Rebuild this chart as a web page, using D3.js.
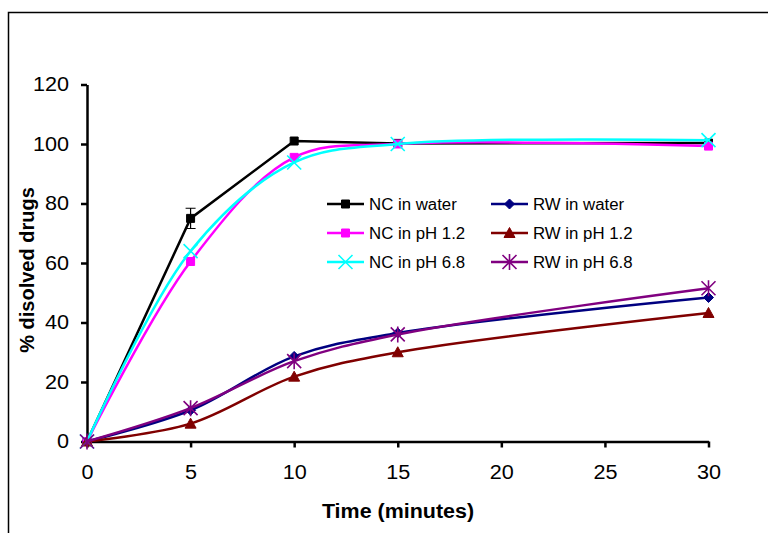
<!DOCTYPE html>
<html>
<head>
<meta charset="utf-8">
<script src="https://cdn.jsdelivr.net/npm/d3@7"></script>
<style>
  body { margin: 0; background: #fff; }
  svg { display: block; font-family: Arial, "Liberation Sans", sans-serif; }
</style>
</head>
<body>
<div id="chart"></div>
<script>
// sampling times (minutes)
const times = [0, 5, 10, 15, 30];

const ncWater = [0, 75, 101, 100.2, 100.3];
const ncPh12 = [0, 60.5, 95.5, 100, 99.3];
const ncPh68 = [0, 64, 93.8, 100, 101.3];
const rwWater = [0, 10.5, 28.6, 36.5, 48.4];
const rwPh12 = [0, 6, 21.8, 30, 43.2];
const rwPh68 = [0, 11.2, 27, 36, 51.5];

// error bar on NC in water at 5 min
const ncWaterErr = [0, 3.4, 0, 0, 0];

const xTicks = [0, 5, 10, 15, 20, 25, 30];
const yTicks = [0, 20, 40, 60, 80, 100, 120];

const seriesNames = ['NC in water', 'RW in water', 'NC in pH 1.2', 'RW in pH 1.2', 'NC in pH 6.8', 'RW in pH 6.8'];

const width = 768;
const height = 533;

const series = [
  { name: seriesNames[0], values: ncWater, color: '#000000', marker: 'square', smooth: false, err: ncWaterErr },
  { name: seriesNames[1], values: rwWater, color: '#000080', marker: 'diamond', smooth: true },
  { name: seriesNames[2], values: ncPh12, color: '#ff00ff', marker: 'square', smooth: true },
  { name: seriesNames[3], values: rwPh12, color: '#800000', marker: 'triangle', smooth: true },
  { name: seriesNames[4], values: ncPh68, color: '#00ffff', marker: 'cross', smooth: true },
  { name: seriesNames[5], values: rwPh68, color: '#800080', marker: 'asterisk', smooth: true },
];

// the original text looks a bit wider than plain Arial
const stretch = (sel, k) => {
  sel.each(function widen() {
    const len = this.getComputedTextLength();
    d3.select(this)
      .attr('textLength', len * k)
      .attr('lengthAdjust', 'spacingAndGlyphs');
  });
};

const svg = d3.select('#chart').append('svg')
  .attr('width', width)
  .attr('height', height);

// outer frame (right and bottom edges fall outside the picture)
svg.append('rect')
  .attr('x', 8.5).attr('y', 12.5)
  .attr('width', 800).attr('height', 600)
  .attr('fill', 'none')
  .attr('stroke', '#000')
  .attr('stroke-width', 1.5);

const x = d3.scaleLinear().domain([0, 30]).range([87, 708.5]);
const y = d3.scaleLinear().domain([0, 120]).range([441.5, 84.5]);

const xAxis = svg.append('g')
  .attr('transform', `translate(0,${y(0)})`)
  .call(d3.axisBottom(x).tickValues(xTicks).tickSize(6).tickPadding(17).tickSizeOuter(0));

const yAxis = svg.append('g')
  .attr('transform', `translate(${x(0)},0)`)
  .call(d3.axisLeft(y).tickValues(yTicks).tickSize(6).tickPadding(12).tickSizeOuter(0));

[xAxis, yAxis].forEach((a) => {
  a.select('.domain').attr('stroke', '#000').attr('stroke-width', 2.5);
  a.selectAll('.tick line').attr('stroke', '#000').attr('stroke-width', 2.5);
  a.selectAll('.tick text').attr('font-size', 20).attr('fill', '#000')
    .attr('font-family', 'Arial, "Liberation Sans", sans-serif');
  stretch(a.selectAll('.tick text'), 1.08);
});

svg.append('text')
  .attr('x', 398).attr('y', 518)
  .attr('text-anchor', 'middle')
  .attr('font-size', 19.5).attr('font-weight', 'bold')
  .text('Time (minutes)')
  .call(stretch, 1.1);

svg.append('text')
  .attr('transform', 'translate(34,270) rotate(-90)')
  .attr('text-anchor', 'middle')
  .attr('font-size', 20).attr('font-weight', 'bold')
  .text('% disolved drugs');

const markerPath = (type) => {
  switch (type) {
    case 'square': return 'M-4,-4H4V4H-4Z';
    case 'diamond': return 'M0,-5L5,0L0,5L-5,0Z';
    case 'triangle': return 'M0,-5.5L5.5,4.5H-5.5Z';
    case 'cross': return 'M-7,-7L7,7M-7,7L7,-7';
    case 'asterisk': return 'M-7,-7L7,7M-7,7L7,-7M0,-8V8';
    default: return '';
  }
};

const drawMarker = (g, s, cx, cy) => {
  const filled = s.marker === 'square' || s.marker === 'diamond' || s.marker === 'triangle';
  g.append('path')
    .attr('transform', `translate(${cx},${cy})`)
    .attr('d', markerPath(s.marker))
    .attr('fill', filled ? s.color : 'none')
    .attr('stroke', s.color)
    .attr('stroke-width', filled ? 1 : 1.6);
};

const plot = svg.append('g');

series.forEach((s) => {
  const pts = times.map((t, i) => [t, s.values[i]]);
  const line = d3.line()
    .x(d => x(d[0]))
    .y(d => y(d[1]))
    .curve(s.smooth ? d3.curveCatmullRom.alpha(0.5) : d3.curveLinear);

  const g = plot.append('g');
  g.append('path')
    .attr('d', line(pts))
    .attr('fill', 'none')
    .attr('stroke', s.color)
    .attr('stroke-width', 2.5);

  if (s.err) {
    pts.forEach((p, i) => {
      if (s.err[i] > 0) {
        const cx = x(p[0]);
        const y1 = y(p[1] + s.err[i]);
        const y2 = y(p[1] - s.err[i]);
        g.append('path')
          .attr('d', `M${cx - 5},${y1}H${cx + 5}M${cx},${y1}V${y2}M${cx - 5},${y2}H${cx + 5}`)
          .attr('fill', 'none')
          .attr('stroke', '#000')
          .attr('stroke-width', 1.2);
      }
    });
  }

  pts.forEach((p) => drawMarker(g, s, x(p[0]), y(p[1])));
});

// legend: two columns, filled row by row
const legend = svg.append('g');
const legendRows = [204, 233, 262];
const legendCols = [327, 491];

series.forEach((s, i) => {
  const col = i % 2;
  const row = Math.floor(i / 2);
  const lx = legendCols[col];
  const ly = legendRows[row];
  const lg = legend.append('g');
  lg.append('line')
    .attr('x1', lx).attr('x2', lx + 37)
    .attr('y1', ly).attr('y2', ly)
    .attr('stroke', s.color)
    .attr('stroke-width', 2.5);
  drawMarker(lg, s, lx + 18.5, ly);
  lg.append('text')
    .attr('x', lx + 42).attr('y', ly + 5.5)
    .attr('font-size', 16)
    .attr('fill', '#000')
    .text(s.name)
    .call(stretch, 1.05);
});
</script>
</body>
</html>
